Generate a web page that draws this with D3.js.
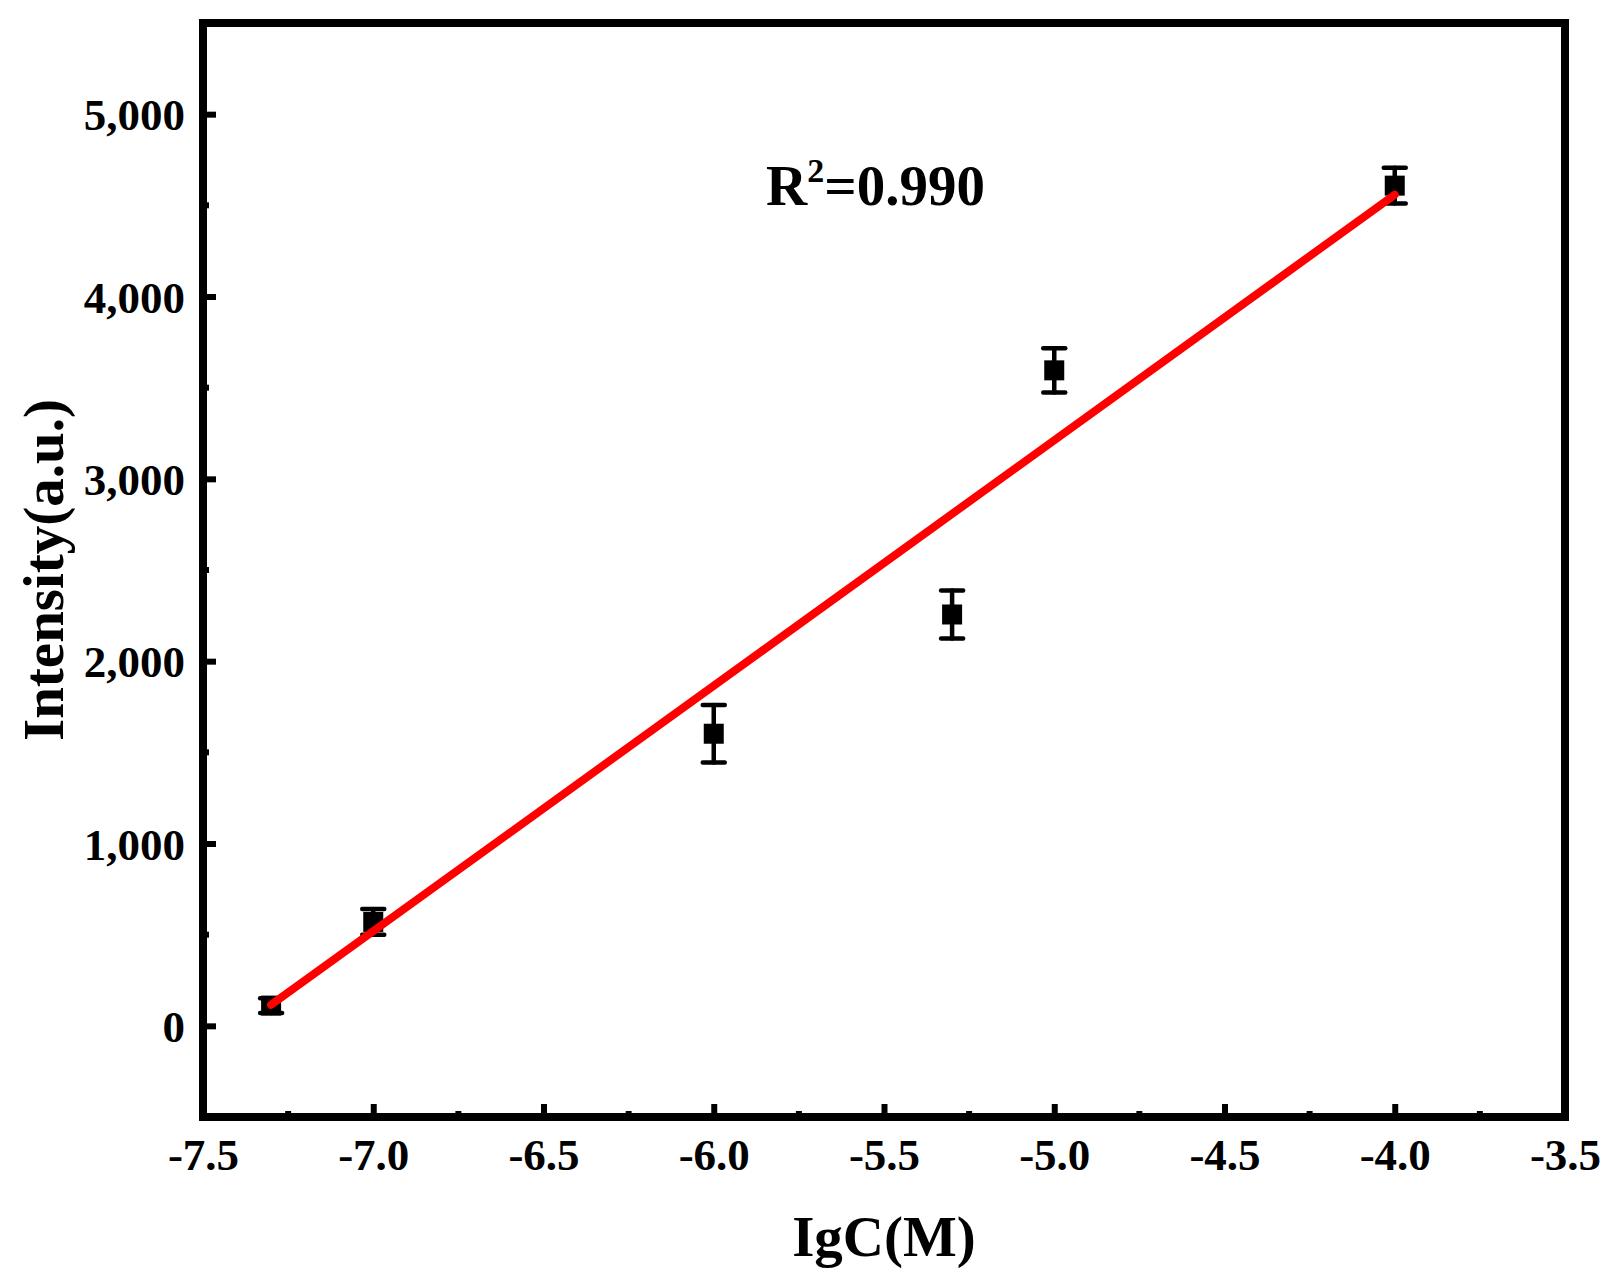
<!DOCTYPE html>
<html>
<head>
<meta charset="utf-8">
<script src="https://cdn.jsdelivr.net/npm/d3@7"></script>
<style>
  html, body { margin: 0; padding: 0; background: #fff; }
  svg { display: block; }
  text { font-family: "Times New Roman", "Liberation Serif", serif; font-weight: bold; fill: #000; }
</style>
</head>
<body>
<script>
// ---- data ----
const concentrations = [-7.3, -7.0, -6.0, -5.3, -5.0, -4.0];
const intensities    = [111, 570, 1602, 2256, 3595, 4608];
const errors         = [40, 71, 158, 131, 121, 98];
const fitX = [-7.3, -4.0];
const fitY = [115, 4558];
const xTicks = [-7.5, -7.0, -6.5, -6.0, -5.5, -5.0, -4.5, -4.0, -3.5];
const yTicks = [0, 1000, 2000, 3000, 4000, 5000];
const xMinor = [-7.25, -6.75, -6.25, -5.75, -5.25, -4.75, -4.25, -3.75];
const yMinor = [-500, 500, 1500, 2500, 3500, 4500];
const r2Label = "0.990";

const W = 1617, H = 1285;
const L = 203, R = 1565, T = 23, B = 1117;

const svg = d3.select("body").append("svg").attr("width", W).attr("height", H);

const x = d3.scaleLinear().domain([-7.5, -3.5]).range([L, R]);
const y = d3.scaleLinear().domain([-500, 5500]).range([B, T]);

// axes (ticks inward)
const xAxis = d3.axisBottom(x).tickValues(xTicks).tickSize(-13).tickPadding(0).tickFormat(d3.format(".1f"));
const yAxis = d3.axisLeft(y).tickValues(yTicks).tickSize(-13).tickPadding(0).tickFormat(d3.format(","));

const gx = svg.append("g").attr("transform", `translate(0,${B})`).call(xAxis);
gx.select(".domain").remove();
gx.selectAll(".tick line").attr("stroke", "#000").attr("stroke-width", 6);
gx.selectAll(".tick text").attr("y", 37).attr("dy", "0.35em").attr("font-size", 45)
  .text(d => d3.format(".1f")(d).replace("−", "-"));

const gy = svg.append("g").attr("transform", `translate(${L},0)`).call(yAxis);
gy.select(".domain").remove();
gy.selectAll(".tick line").attr("stroke", "#000").attr("stroke-width", 6);
gy.selectAll(".tick text").attr("x", -18).attr("dy", "0.35em").attr("font-size", 45);

// minor ticks
svg.append("g").selectAll("line").data(xMinor).join("line")
  .attr("x1", d => x(d)).attr("x2", d => x(d)).attr("y1", B).attr("y2", B - 6)
  .attr("stroke", "#000").attr("stroke-width", 6);
svg.append("g").selectAll("line").data(yMinor).join("line")
  .attr("y1", d => y(d)).attr("y2", d => y(d)).attr("x1", L).attr("x2", L + 6)
  .attr("stroke", "#000").attr("stroke-width", 6);

// frame
svg.append("rect").attr("x", L).attr("y", T).attr("width", R - L).attr("height", B - T)
  .attr("fill", "none").attr("stroke", "#000").attr("stroke-width", 8);

// error bars
const pts = concentrations.map((c, i) => ({ c, v: intensities[i], e: errors[i] }));
const eb = svg.append("g").attr("stroke", "#000").attr("stroke-width", 4.5).attr("stroke-linecap", "round");
eb.selectAll("line.v").data(pts).join("line").attr("class", "v")
  .attr("x1", d => x(d.c)).attr("x2", d => x(d.c))
  .attr("y1", d => y(d.v - d.e)).attr("y2", d => y(d.v + d.e));
eb.selectAll("line.t").data(pts).join("line").attr("class", "t")
  .attr("x1", d => x(d.c) - 11).attr("x2", d => x(d.c) + 11)
  .attr("y1", d => y(d.v + d.e)).attr("y2", d => y(d.v + d.e));
eb.selectAll("line.b").data(pts).join("line").attr("class", "b")
  .attr("x1", d => x(d.c) - 11).attr("x2", d => x(d.c) + 11)
  .attr("y1", d => y(d.v - d.e)).attr("y2", d => y(d.v - d.e));

// markers
svg.append("g").selectAll("rect").data(pts).join("rect")
  .attr("x", d => x(d.c) - 10).attr("y", d => y(d.v) - 10)
  .attr("width", 20).attr("height", 20).attr("fill", "#000");

// fit line
svg.append("line")
  .attr("x1", x(fitX[0])).attr("y1", y(fitY[0]))
  .attr("x2", x(fitX[1])).attr("y2", y(fitY[1]))
  .attr("stroke", "#ff0000").attr("stroke-width", 8).attr("stroke-linecap", "round");

// R^2 annotation
const r2 = svg.append("text").attr("x", 766).attr("y", 205).attr("font-size", 57);
r2.append("tspan").text("R");
r2.append("tspan").attr("font-size", 34).attr("dy", -23).text("2");
r2.append("tspan").attr("dy", 23).text("=" + r2Label);

// axis titles
svg.append("text").attr("x", (L + R) / 2).attr("y", 1256).attr("text-anchor", "middle")
  .attr("font-size", 57).text("IgC(M)");
svg.append("text").attr("transform", `translate(63,${(T + B) / 2}) rotate(-90)`)
  .attr("text-anchor", "middle").attr("font-size", 57).text("Intensity(a.u.)");
</script>
</body>
</html>
